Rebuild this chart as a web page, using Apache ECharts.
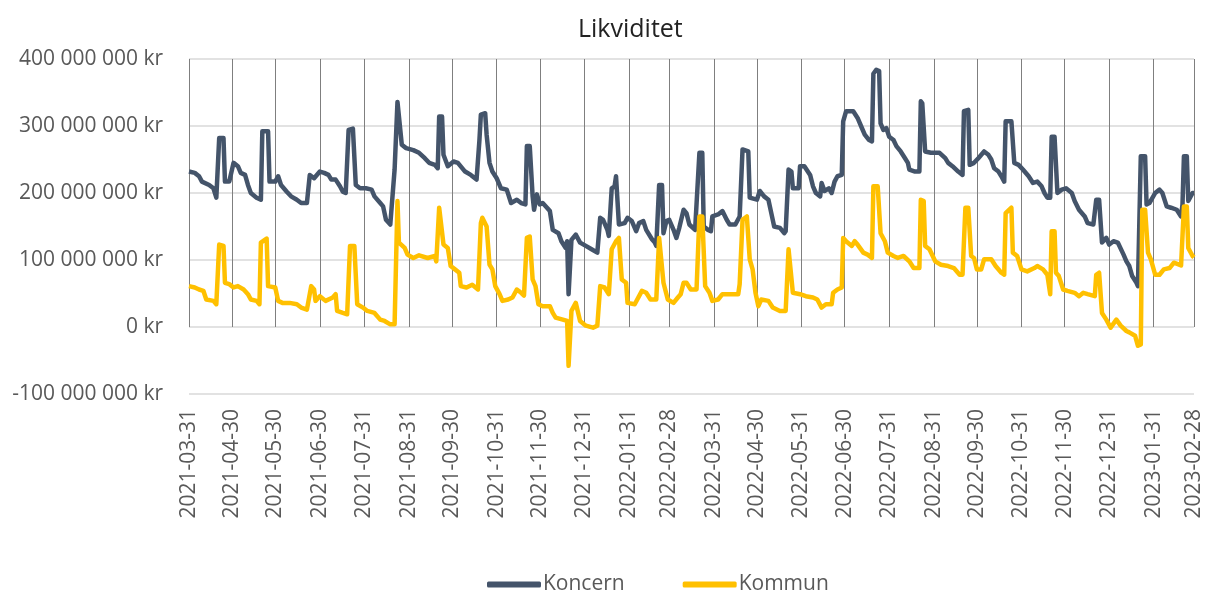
<!DOCTYPE html>
<html>
<head>
<meta charset="utf-8">
<script src="https://cdn.jsdelivr.net/npm/echarts@6/dist/echarts.min.js"></script>
<style>
  html, body { margin: 0; padding: 0; background: #fff; }
  #chart { width: 1208px; height: 592px; }
</style>
</head>
<body>
<div id="chart"></div>
<script>
// dagar räknat från 2021-03-31, värden i miljoner kr
const startDate = '2021-03-31'
const dayCount = 700
const tickLabels = ['2021-03-31', '2021-04-30', '2021-05-30', '2021-06-30', '2021-07-31', '2021-08-31',
  '2021-09-30', '2021-10-31', '2021-11-30', '2021-12-31', '2022-01-31', '2022-02-28', '2022-03-31',
  '2022-04-30', '2022-05-31', '2022-06-30', '2022-07-31', '2022-08-31', '2022-09-30', '2022-10-31',
  '2022-11-30', '2022-12-31', '2023-01-31', '2023-02-28']
const yTicks = [-100, 0, 100, 200, 300, 400]

const koncern = [[0,232],[4,230],[7,225],[9,217],[14,212],[17,207],[19,193],[21,282],[24,282],[25,217],[28,217],[31,245],[34,240],[36,230],[39,227],[41,212],[43,200],[47,193],[50,190],[51,292],[55,292],[56,217],[60,217],[62,225],[64,212],[68,202],[71,195],[75,190],[78,185],[82,185],[84,227],[87,222],[91,232],[94,230],[97,227],[99,220],[102,220],[105,210],[107,202],[109,200],[111,294],[114,296],[116,212],[119,207],[123,207],[127,205],[129,195],[133,185],[135,180],[137,160],[140,153],[141,155],[143,235],[145,336],[148,272],[151,267],[156,264],[160,260],[164,252],[167,245],[171,242],[173,237],[174,314],[176,314],[177,257],[180,240],[184,247],[187,245],[192,232],[196,227],[200,220],[202,279],[203,317],[206,319],[207,287],[209,245],[211,232],[214,222],[217,207],[221,205],[224,185],[228,190],[231,185],[234,183],[235,270],[237,270],[239,195],[240,175],[242,198],[244,183],[246,185],[249,178],[251,173],[253,145],[257,140],[259,128],[262,118],[263,128],[264,49],[266,130],[269,138],[272,126],[276,121],[280,116],[284,111],[286,163],[288,160],[291,145],[292,136],[294,207],[296,210],[297,225],[299,153],[303,155],[305,163],[308,158],[311,143],[313,155],[316,158],[318,145],[322,131],[324,126],[325,121],[327,212],[329,212],[330,140],[332,158],[334,160],[337,145],[339,133],[341,148],[344,175],[346,170],[348,153],[352,145],[355,260],[357,260],[358,150],[361,145],[363,143],[364,165],[368,168],[371,173],[374,160],[376,153],[380,153],[383,165],[385,265],[389,262],[390,193],[395,190],[397,203],[400,195],[403,190],[405,170],[407,150],[411,148],[414,140],[415,143],[417,235],[419,232],[420,207],[424,207],[425,240],[428,240],[432,227],[434,210],[436,200],[439,195],[440,215],[442,203],[445,207],[447,200],[449,217],[451,225],[454,227],[455,307],[457,322],[462,322],[465,312],[468,297],[470,287],[473,279],[475,277],[476,378],[478,384],[480,382],[481,304],[483,294],[485,297],[487,284],[490,279],[492,270],[495,262],[498,252],[500,245],[501,235],[505,232],[508,232],[509,337],[510,334],[512,262],[516,260],[522,260],[526,252],[528,245],[531,240],[535,232],[538,227],[539,322],[542,324],[543,242],[546,245],[549,252],[553,262],[556,257],[558,250],[560,237],[563,232],[565,225],[567,217],[568,307],[572,307],[574,245],[577,242],[580,235],[584,225],[587,215],[590,217],[593,210],[595,200],[597,193],[599,193],[600,284],[602,284],[604,200],[607,205],[610,207],[614,200],[616,188],[619,175],[623,165],[625,155],[629,153],[631,190],[633,190],[635,126],[638,133],[640,123],[643,128],[646,126],[650,108],[652,98],[654,91],[656,76],[659,66],[660,61],[662,255],[665,255],[666,183],[668,185],[672,200],[675,205],[677,200],[680,180],[683,178],[687,175],[690,165],[691,183],[692,255],[694,255],[695,188],[698,200],[699,200]]

const kommun = [[0,61],[4,59],[7,56],[10,54],[12,41],[17,39],[19,34],[21,123],[24,121],[25,66],[28,64],[31,59],[34,61],[38,56],[41,49],[43,41],[47,39],[49,34],[50,126],[54,132],[55,61],[60,59],[62,39],[65,36],[70,36],[75,34],[78,29],[82,26],[85,61],[87,56],[88,39],[91,46],[95,39],[100,44],[102,49],[103,24],[107,21],[110,19],[112,121],[115,121],[117,34],[121,29],[124,24],[129,21],[133,11],[136,9],[140,4],[143,4],[145,188],[146,126],[150,118],[152,108],[156,103],[160,107],[166,103],[171,106],[172,98],[174,178],[175,178],[177,123],[180,118],[182,91],[185,86],[188,81],[189,61],[193,59],[197,63],[201,56],[203,155],[204,163],[207,150],[209,93],[211,86],[213,61],[216,49],[218,39],[222,41],[225,44],[228,56],[231,51],[233,47],[235,133],[237,135],[239,71],[241,61],[243,34],[246,31],[251,31],[253,21],[255,14],[260,11],[263,9],[264,-58],[266,24],[269,36],[272,9],[276,2],[281,-1],[284,2],[286,61],[289,59],[292,49],[294,116],[297,128],[299,133],[301,71],[304,66],[305,36],[310,34],[315,54],[318,51],[321,41],[325,41],[327,133],[328,133],[330,66],[333,41],[337,36],[340,44],[342,49],[344,66],[346,66],[349,56],[353,56],[355,165],[357,165],[359,61],[362,51],[364,39],[368,41],[371,49],[376,49],[382,49],[383,64],[385,160],[388,165],[390,101],[392,86],[394,51],[396,31],[398,41],[403,39],[406,29],[411,24],[415,24],[417,116],[418,116],[420,51],[425,49],[429,46],[434,44],[437,41],[440,29],[443,34],[447,34],[448,51],[451,56],[454,59],[455,133],[457,128],[461,121],[463,128],[465,123],[469,111],[472,108],[475,103],[476,210],[479,210],[481,140],[484,128],[486,111],[490,106],[493,103],[497,106],[501,98],[504,88],[508,88],[509,190],[511,188],[512,121],[515,116],[519,98],[523,93],[528,91],[532,88],[536,78],[538,78],[540,178],[542,178],[544,106],[546,103],[548,86],[551,86],[553,101],[558,101],[561,91],[565,81],[567,78],[568,170],[572,178],[573,111],[576,106],[579,86],[583,83],[588,88],[590,91],[594,86],[597,78],[599,49],[600,143],[602,143],[603,81],[605,76],[608,56],[611,54],[616,51],[619,46],[622,51],[625,49],[630,46],[631,78],[633,81],[635,21],[638,11],[641,-1],[645,11],[648,2],[652,-6],[654,-8],[658,-13],[660,-28],[662,-26],[663,175],[665,175],[667,111],[669,101],[672,78],[675,78],[678,86],[682,88],[685,96],[690,92],[692,180],[694,180],[695,118],[698,106],[699,104]]

// alla dagar som kategorier
const t0 = Date.parse(startDate + 'T00:00:00Z')
const dates = Array.from({ length: dayCount }, (_, i) => new Date(t0 + i * 86400000).toISOString().slice(0, 10))
const tickSet = new Set(tickLabels)
const isTick = (index, value) => tickSet.has(value)
const toPoints = arr => arr.map(p => [dates[p[0]], p[1]])

// 400 000 000 kr
function krFormat(v) {
  const n = Math.round(v * 1e6)
  const s = Math.abs(n).toString().replace(/\B(?=(\d{3})+(?!\d))/g, ' ')
  return (n < 0 ? '-' : '') + s + ' kr'
}

const font = 'Open Sans'
const option = {
  animation: false,
  title: {
    text: 'Likviditet',
    left: 573,
    top: 12,
    textStyle: { fontFamily: font, fontSize: 25, fontWeight: 'normal', color: '#222' }
  },
  legend: {
    top: 569,
    left: 482,
    itemWidth: 54,
    itemHeight: 6,
    itemGap: 58,
    icon: 'roundRect',
    textStyle: { fontFamily: font, fontSize: 21, color: '#595959', padding: [0, 0, 0, -3] },
    data: ['Koncern', 'Kommun']
  },
  grid: [
    { left: 189, width: 1005, top: 59, height: 335 },
    { left: 189, width: 1005, top: 59, height: 268 }
  ],
  xAxis: [
    {
      type: 'category',
      data: dates,
      boundaryGap: false,
      axisLine: { show: false },
      axisTick: { show: false },
      axisLabel: {
        interval: isTick,
        rotate: 90,
        margin: 15,
        fontFamily: font,
        fontSize: 21,
        color: '#595959'
      },
      splitLine: { show: false }
    },
    {
      // vertikala stödlinjer från 0 till toppen
      type: 'category',
      gridIndex: 1,
      data: dates,
      boundaryGap: false,
      axisLine: { show: false },
      axisTick: { show: false },
      axisLabel: { show: false },
      splitLine: { show: true, interval: isTick, lineStyle: { color: '#7f7f7f', width: 1 } }
    }
  ],
  yAxis: [
    {
      type: 'value',
      min: yTicks[0],
      max: yTicks[yTicks.length - 1],
      interval: 100,
      axisLine: { show: false },
      axisTick: { show: false },
      axisLabel: {
        formatter: krFormat,
        margin: 26,
        fontFamily: font,
        fontSize: 21,
        color: '#595959'
      },
      splitLine: { lineStyle: { color: '#d9d9d9', width: 1.5 } }
    },
    { type: 'value', gridIndex: 1, min: 0, max: 400, show: false }
  ],
  series: [
    {
      name: 'Koncern',
      type: 'line',
      data: toPoints(koncern),
      showSymbol: false,
      symbol: 'none',
      color: '#44546A',
      lineStyle: { width: 4.5, color: '#44546A', join: 'round' }
    },
    {
      name: 'Kommun',
      type: 'line',
      data: toPoints(kommun),
      showSymbol: false,
      symbol: 'none',
      color: '#FFC000',
      lineStyle: { width: 4.5, color: '#FFC000', join: 'round' }
    }
  ]
}

echarts.init(document.getElementById('chart')).setOption(option)
</script>
</body>
</html>
